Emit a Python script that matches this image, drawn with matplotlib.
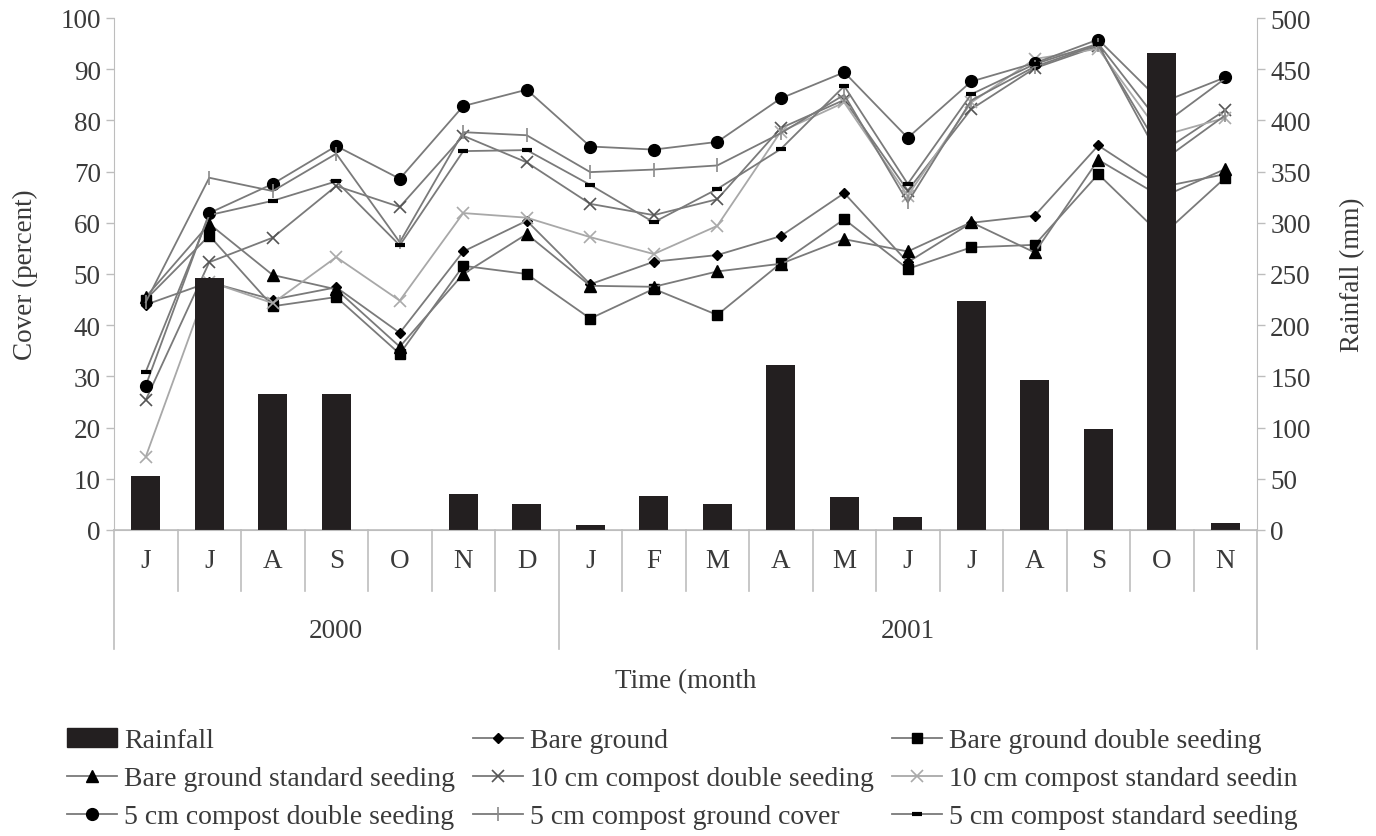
import numpy as np
import matplotlib.pyplot as plt
from matplotlib.patches import Patch
import matplotlib.transforms as mtransforms

plt.rcParams['font.family'] = ['Liberation Serif', 'DejaVu Serif']
plt.rcParams['font.size'] = 19.5

months = ['J', 'J', 'A', 'S', 'O', 'N', 'D', 'J', 'F', 'M', 'A', 'M', 'J', 'J', 'A', 'S', 'O', 'N']
years = ['2000', '2001']
year_span = [(0, 7), (7, 18)]

rainfall = [53, 246, 133, 133, 0, 35, 25, 5, 33, 25, 161, 32, 13, 224, 146, 99, 466, 7]

bare_ground = [44.0, 48.4, 45.0, 47.4, 38.5, 54.4, 60.4, 48.0, 52.4, 53.7, 57.4, 65.8, 52.3, 60.0, 61.4, 75.1, 67.0, 69.5]
bare_double = [45.0, 57.5, 43.7, 45.5, 34.4, 51.6, 50.0, 41.3, 47.1, 42.0, 52.1, 60.7, 51.0, 55.2, 55.7, 69.5, 57.5, 68.8]
bare_standard = [45.5, 59.8, 49.8, 47.0, 35.8, 50.0, 57.8, 47.7, 47.5, 50.5, 52.0, 56.8, 54.4, 60.1, 54.2, 72.3, 65.0, 70.5]
c10_double = [25.4, 52.3, 57.1, 67.2, 63.1, 77.0, 71.8, 63.7, 61.5, 64.6, 78.5, 84.0, 66.3, 82.2, 90.2, 94.5, 73.8, 82.0]
c10_standard = [14.3, 48.5, 44.3, 53.3, 44.8, 61.9, 61.0, 57.2, 53.9, 59.4, 77.8, 83.5, 65.3, 83.5, 92.0, 94.0, 77.0, 80.5]
c5_double = [28.2, 61.9, 67.6, 75.0, 68.6, 82.8, 86.0, 74.9, 74.3, 75.8, 84.3, 89.4, 76.6, 87.6, 91.2, 95.8, 83.5, 88.4]
c5_cover = [44.5, 68.8, 66.2, 73.5, 56.2, 77.7, 77.1, 69.9, 70.4, 71.2, 77.5, 85.0, 64.0, 83.9, 90.5, 94.8, 72.0, 81.0]
c5_standard = [30.9, 61.5, 64.3, 68.1, 55.6, 74.0, 74.2, 67.4, 60.1, 66.6, 74.4, 86.7, 67.6, 85.1, 91.0, 95.0, 79.0, 88.2]

txt = '#3a3a3a'
grid_c = '#bdbdbd'
line_c = '#7a7a7a'

fig = plt.figure(figsize=(13.76, 8.37), dpi=100)
ax = fig.add_axes([114 / 1376, 1 - 531 / 837, (1257 - 114) / 1376, (531 - 19) / 837])
x = np.arange(len(months))

series = [
    ('Bare ground', bare_ground, dict(marker='D', ms=5, mfc='black', mec='black'), line_c),
    ('Bare ground double seeding', bare_double, dict(marker='s', ms=7, mfc='black', mec='black'), line_c),
    ('Bare ground standard seeding', bare_standard, dict(marker='^', ms=8, mfc='black', mec='black'), line_c),
    ('10 cm compost double seeding', c10_double, dict(marker='x', ms=9, mec='#555555', mew=1.2), line_c),
    ('10 cm compost standard seedin', c10_standard, dict(marker='x', ms=9, mec='#aaaaaa', mew=1.2), '#a8a8a8'),
    ('5 cm compost double seeding', c5_double, dict(marker='o', ms=8.5, mfc='black', mec='black'), line_c),
    ('5 cm compost ground cover', c5_cover, dict(marker='|', ms=10, mec='#8a8a8a', mew=1.2), line_c),
    ('5 cm compost standard seeding', c5_standard, dict(marker='_', ms=7, mec='black', mew=3), line_c),
]

handles = {}
for name, vals, mk, lc in series:
    ln, = ax.plot(x, vals, color=lc, lw=1.3, label=name, **mk)
    handles[name] = ln

ax.set_xlim(-0.5, len(months) - 0.5)
ax.set_ylim(0, 100)
ax.set_yticks(np.arange(0, 101, 10))
ax.set_xticks([])
ax.set_ylabel('Cover (percent)', color=txt, labelpad=16)

ax2 = ax.twinx()
ax2.bar(x, rainfall, width=0.45, color='#231f20', label='Rainfall')
ax2.set_ylim(0, 500)
ax2.set_yticks(np.arange(0, 501, 50))
ax2.set_ylabel('Rainfall (mm)', color=txt, labelpad=21)

for a in (ax, ax2):
    for s in a.spines.values():
        s.set_color(grid_c)
    a.spines['top'].set_visible(False)
    a.tick_params(axis='y', colors=grid_c, labelcolor=txt, length=6, width=1)
ax.spines['right'].set_visible(False)
ax.spines['bottom'].set_visible(False)
ax2.spines['left'].set_visible(False)

# category boxes under the plot
trans = mtransforms.blended_transform_factory(ax.transData, ax.transAxes)
month_bottom = -61 / 512
year_bottom = -119 / 512
ax.plot([-0.5, len(months) - 0.5], [0, 0], color=grid_c, lw=1.2, transform=trans, clip_on=False)
for i in range(len(months) + 1):
    edge = i - 0.5
    low = year_bottom if i in (0, 7, len(months)) else month_bottom
    ax.plot([edge, edge], [0, low], color=grid_c, lw=1.2, transform=trans, clip_on=False)
for i, m in enumerate(months):
    ax.text(i, -31 / 512, m, transform=trans, ha='center', va='center', color=txt)
for yr, (a0, a1) in zip(years, year_span):
    ax.text((a0 + a1 - 1) / 2, -101 / 512, yr, transform=trans, ha='center', va='center', color=txt)
ax.text(0.5, -151 / 512, 'Time (month', transform=ax.transAxes, ha='center', va='center', color=txt)

order = ['Rainfall', 'Bare ground standard seeding', '5 cm compost double seeding',
         'Bare ground', '10 cm compost double seeding', '5 cm compost ground cover',
         'Bare ground double seeding', '10 cm compost standard seedin', '5 cm compost standard seeding']
handles['Rainfall'] = Patch(color='#231f20')
leg = fig.legend([handles[k] for k in order], order, ncol=3, loc='upper left',
                 bbox_to_anchor=(67 / 1376, 1 - 729 / 837), frameon=False, fontsize=20,
                 handlelength=1.8, handletextpad=0.25, columnspacing=0.65,
                 labelspacing=0.45, borderpad=0, borderaxespad=0)
for t in leg.get_texts():
    t.set_color(txt)

fig.savefig('out.png', dpi=100)
